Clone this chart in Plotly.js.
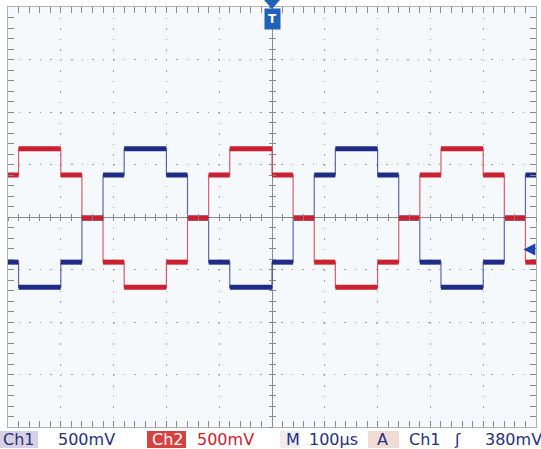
<!DOCTYPE html>
<html><head><meta charset="utf-8">
<script src="https://cdn.plot.ly/plotly-3.0.1.min.js"></script>
<style>html,body{margin:0;padding:0;background:#fff}#chart{width:541px;height:449px}</style>
</head><body><div id="chart"></div>
<script>
// time boundaries of each step (µs) and the level of each step (V)
const stepTimesUs = [-520,-480,-400,-360,-320,-280,-200,-160,-120,-80,0,40,80,120,200,240,280,320,400,440,480,520];
const ch2Volts = [0.40,0.65,0.40,-0.01,-0.43,-0.67,-0.43,-0.01,0.40,0.65,0.40,-0.01,-0.43,-0.67,-0.43,-0.01,0.40,0.65,0.40,-0.01,-0.43];
const ch1Volts = [-0.43,-0.67,-0.43,-0.01,0.40,0.65,0.40,-0.01,-0.43,-0.67,-0.43,-0.01,0.40,0.65,0.40,-0.01,-0.43,-0.67,-0.43,-0.01,0.40];
const statusLabels = ['Ch1','500mV','Ch2','500mV','M','100µs','A','Ch1','ʃ','380mV'];
const triggerLevelV = -0.31;

const RED = '#cc2030', BLUE = '#1e2c86', NAVY = '#27307a', MARK = '#1f62b8';
const L = 8, R = 536, T = 7, B = 427;
const px = v => (v - L) / (R - L);
const py = v => (B - v) / (B - T);

function flats(levels){
  const x=[], y=[];
  levels.forEach((v,i)=>{ x.push(stepTimesUs[i], stepTimesUs[i+1], null); y.push(v, v, null); });
  return {x, y};
}
function steps(levels){
  return {x: stepTimesUs.slice(), y: levels.concat([levels[levels.length-1]])};
}
const f1 = flats(ch1Volts), f2 = flats(ch2Volts), s1 = steps(ch1Volts), s2 = steps(ch2Volts);
const data = [
  {x:s1.x, y:s1.y, mode:'lines', line:{shape:'hv', color:BLUE, width:1.2}, opacity:0.7, hoverinfo:'skip'},
  {x:s2.x, y:s2.y, mode:'lines', line:{shape:'hv', color:RED, width:1.2}, opacity:0.7, hoverinfo:'skip'},
  {x:f1.x, y:f1.y, mode:'lines', line:{color:BLUE, width:5}, hoverinfo:'skip'},
  {x:f2.x, y:f2.y, mode:'lines', line:{color:RED, width:5}, hoverinfo:'skip'},
  {x:[], y:[], xaxis:'x2', yaxis:'y'},
  {x:[], y:[], xaxis:'x3', yaxis:'y'},
  {x:[], y:[], xaxis:'x', yaxis:'y2'},
  {x:[], y:[], xaxis:'x', yaxis:'y3'}
];
const GRID = '#a2a2a2', TICK = '#8a8a8a';
const centerX = (side) => ({overlaying:'x', anchor:'free', position:0.5, range:[-500,500], tick0:0, dtick:20,
  ticks:side, ticklen:3, tickcolor:TICK, showticklabels:false, showgrid:false, zeroline:false, showline:false, fixedrange:true});
const centerY = (side) => ({overlaying:'y', anchor:'free', position:0.5, range:[-2,2], tick0:0, dtick:0.1,
  ticks:side, ticklen:3, tickcolor:TICK, showticklabels:false, showgrid:false, zeroline:false, showline:false, fixedrange:true});

const labelX = [1,56,150,195,284,307,375,407,452,483];
const labelColor = [NAVY,NAVY,'#ffffff',RED,NAVY,NAVY,NAVY,NAVY,NAVY,NAVY];
const annotations = statusLabels.map((t,i)=>({
  text:t, xref:'paper', yref:'paper', x:px(labelX[i]), y:py(439.5), xanchor:'left', yanchor:'middle',
  showarrow:false, font:{family:'DejaVu Sans', size:16, color:labelColor[i]}
}));
annotations.push({text:'<b>T</b>', xref:'x', yref:'paper', x:0, y:py(19), yanchor:'middle', showarrow:false,
  bgcolor:MARK, borderpad:3, font:{family:'DejaVu Sans', size:12, color:'#ffffff'}});
annotations.push({text:'', xref:'x', yref:'y', x:476, y:triggerLevelV, ax:13, ay:0, showarrow:true,
  arrowhead:2, arrowsize:1.2, arrowwidth:2, arrowcolor:'#2040b0'});

const shapes = [
  {type:'rect', xref:'paper', yref:'paper', x0:px(-2), x1:px(38), y0:py(448), y1:py(431), fillcolor:'#d8d1e4', line:{width:0}, layer:'below'},
  {type:'rect', xref:'paper', yref:'paper', x0:px(147), x1:px(186), y0:py(448), y1:py(431), fillcolor:'#d4433f', line:{width:0}, layer:'below'},
  {type:'rect', xref:'paper', yref:'paper', x0:px(280), x1:px(300), y0:py(448), y1:py(431), fillcolor:'#eeedf2', line:{width:0}, layer:'below'},
  {type:'rect', xref:'paper', yref:'paper', x0:px(368), x1:px(399), y0:py(448), y1:py(431), fillcolor:'#f1dcd5', line:{width:0}, layer:'below'},
  {type:'path', xref:'x', yref:'paper', path:`M -15,${py(0)} L 15,${py(0)} L 0,${py(9)} Z`, fillcolor:MARK, line:{width:0}}
];

const layout = {
  width:541, height:449, margin:{l:L, r:541-R, t:T, b:449-B},
  paper_bgcolor:'#ffffff', plot_bgcolor:'#f6f9fc', showlegend:false,
  xaxis:{range:[-500,500], tick0:0, dtick:100, showticklabels:false, ticks:'inside', ticklen:6, tickcolor:TICK,
    minor:{dtick:20, ticks:'inside', ticklen:3, tickcolor:TICK, showgrid:false},
    showgrid:true, gridcolor:GRID, gridwidth:1, griddash:'1.5px,9px',
    zeroline:true, zerolinecolor:'#8c8c8c', zerolinewidth:1,
    showline:true, linecolor:'#b0b0b0', linewidth:1, mirror:'allticks', fixedrange:true},
  yaxis:{range:[-2,2], tick0:0, dtick:0.5, showticklabels:false, ticks:'inside', ticklen:6, tickcolor:TICK,
    minor:{dtick:0.1, ticks:'inside', ticklen:3, tickcolor:TICK, showgrid:false},
    showgrid:true, gridcolor:GRID, gridwidth:1, griddash:'1.5px,9px',
    zeroline:true, zerolinecolor:'#8c8c8c', zerolinewidth:1,
    showline:true, linecolor:'#b0b0b0', linewidth:1, mirror:'allticks', fixedrange:true},
  xaxis2:centerX('inside'), xaxis3:centerX('outside'),
  yaxis2:centerY('inside'), yaxis3:centerY('outside'),
  annotations, shapes
};
Plotly.newPlot('chart', data, layout, {staticPlot:true, displayModeBar:false});
</script></body></html>
